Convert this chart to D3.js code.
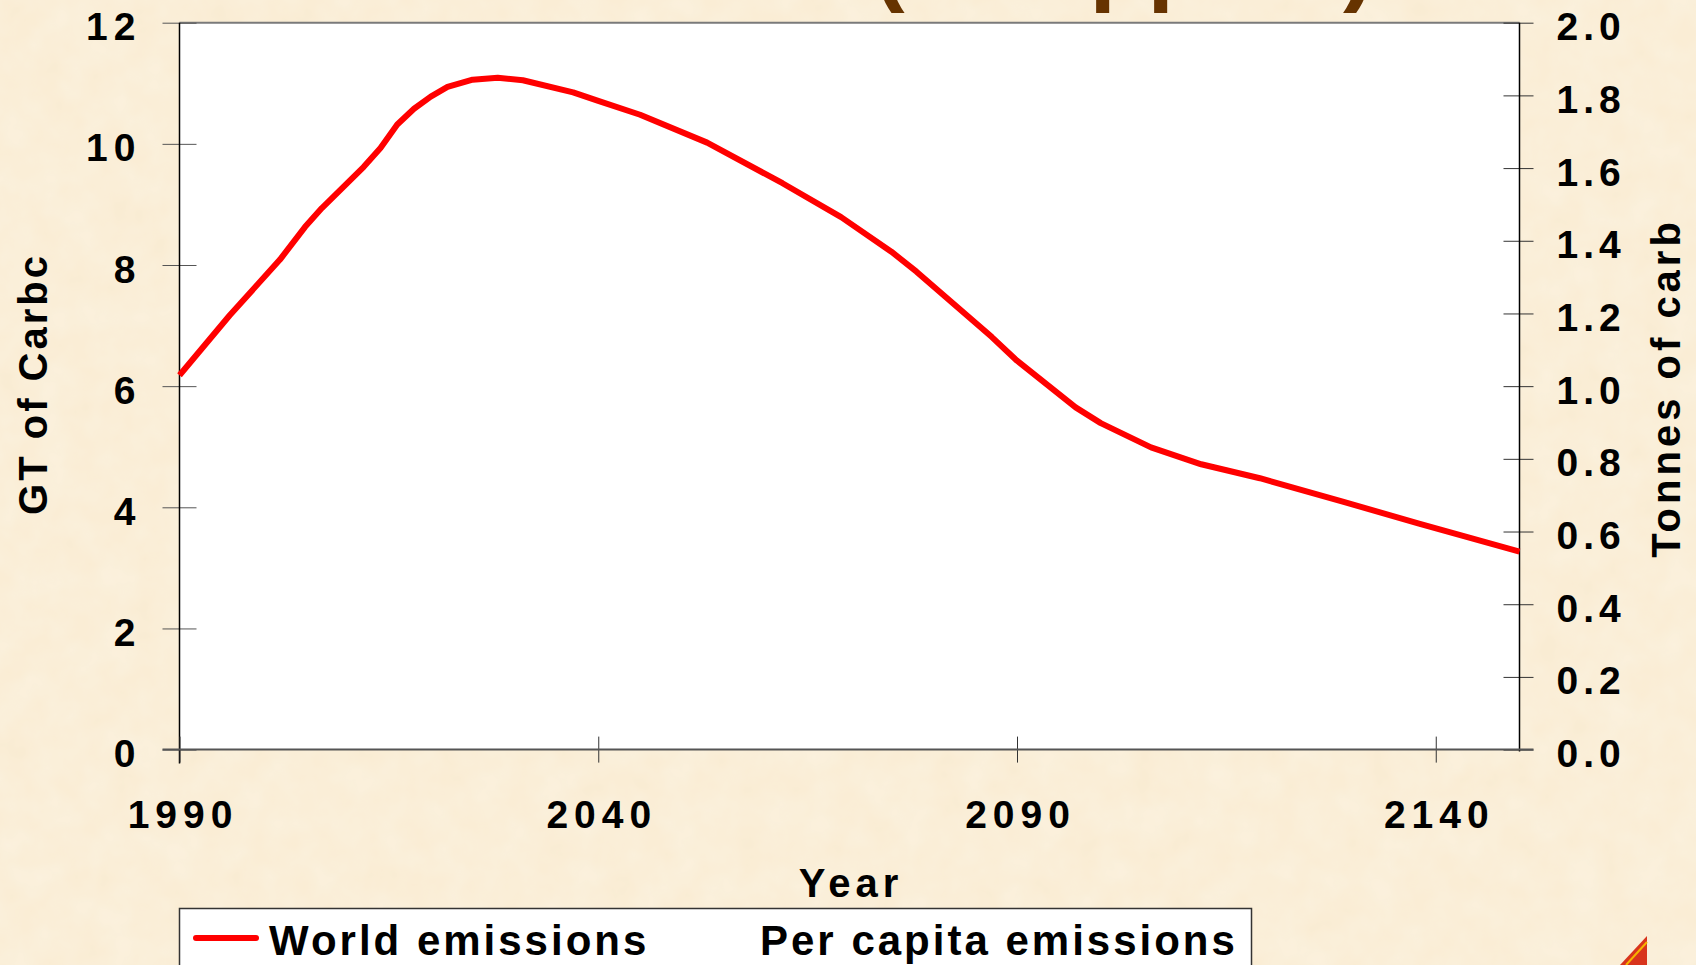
<!DOCTYPE html>
<html>
<head>
<meta charset="utf-8">
<script src="https://cdnjs.cloudflare.com/ajax/libs/d3/7.8.5/d3.min.js"></script>
<style>
  body { margin: 0; padding: 0; background: #faeed6; overflow: hidden; }
  svg { display: block; }
  text { font-family: "Liberation Sans", Arial, sans-serif; font-weight: bold; }
</style>
</head>
<body>
<script>
// chart data
var years = [1990, 1996, 2002, 2005, 2007, 2012, 2014, 2016, 2018, 2020, 2022,
             2025, 2028, 2031, 2037, 2040, 2045, 2053, 2062, 2069, 2075,
             2078, 2082, 2087, 2090, 2097, 2100, 2106, 2112, 2119, 2129, 2138, 2150];
var worldEmissions = [6.18, 7.17, 8.09, 8.63, 8.94, 9.62, 9.93, 10.32, 10.58, 10.78, 10.94,
                      11.06, 11.09, 11.05, 10.85, 10.71, 10.48, 10.02, 9.35, 8.79, 8.22,
                      7.89, 7.41, 6.81, 6.42, 5.65, 5.39, 4.99, 4.71, 4.48, 4.09, 3.73, 3.27];
var leftTicks = [0, 2, 4, 6, 8, 10, 12];
var rightTicks = [0, 0.2, 0.4, 0.6, 0.8, 1.0, 1.2, 1.4, 1.6, 1.8, 2.0];
var yearTicks = [1990, 2040, 2090, 2140];
var legendLabels = ["World emissions", "Per capita emissions"];
var titleText = "(550 ppmv)";

var width = 1696;
var height = 965;

var svg = d3.select("body").append("svg")
  .attr("width", width)
  .attr("height", height)

// faint parchment texture
var defs = svg.append("defs");
var paper = defs.append("filter")
  .attr("id", "paper")
  .attr("x", 0).attr("y", 0).attr("width", "100%").attr("height", "100%");
paper.append("feTurbulence")
  .attr("type", "fractalNoise")
  .attr("baseFrequency", 0.03)
  .attr("numOctaves", 3)
  .attr("seed", 4);
paper.append("feColorMatrix")
  .attr("type", "matrix")
  .attr("values", "0 0 0 0 1  0 0 0 0 0.99  0 0 0 0 0.94  0 0 0 0.35 0");
paper.append("feComposite").attr("in2", "SourceGraphic").attr("operator", "in");

svg.append("rect")
  .attr("width", width)
  .attr("height", height)
  .attr("fill", "#f9ebd1");
svg.append("rect")
  .attr("width", width)
  .attr("height", height)
  .attr("fill", "#f9ebd1")
  .attr("filter", "url(#paper)");

var x = d3.scaleLinear().domain([1990, 2150]).range([179.5, 1519.5]);
var yLeft = d3.scaleLinear().domain([0, 12]).range([749.6, 22.7]);
var yRight = d3.scaleLinear().domain([0, 2]).range([749.6, 22.7]);

// white plot area
svg.append("rect")
  .attr("x", x(1990))
  .attr("y", yLeft(12))
  .attr("width", x(2150) - x(1990))
  .attr("height", yLeft(0) - yLeft(12))
  .attr("fill", "#ffffff");

// top border (grey)
svg.append("line")
  .attr("x1", x(1990)).attr("x2", x(2150))
  .attr("y1", yLeft(12)).attr("y2", yLeft(12))
  .attr("stroke", "#7a7a7a")
  .attr("stroke-width", 2);

// left axis, ticks cross the axis line
var leftAxis = svg.append("g")
  .attr("transform", "translate(" + x(1990) + ",0)")
  .call(d3.axisLeft(yLeft).tickValues(leftTicks).tickSize(17).tickPadding(0).tickFormat(d3.format("d")));

leftAxis.select(".domain").remove();
leftAxis.selectAll(".tick line").attr("x1", 17).attr("x2", -17).attr("stroke", "#555");
leftAxis.selectAll(".tick text")
  .attr("x", -44 + 6)
  .attr("dy", 17)
  .attr("fill", "#000")
  .style("font-size", "39px")
  .style("letter-spacing", "6px")
  .attr("text-anchor", "end");

svg.append("line")
  .attr("x1", x(1990)).attr("x2", x(1990))
  .attr("y1", yLeft(12)).attr("y2", yLeft(0) + 14)
  .attr("stroke", "#000")
  .attr("stroke-width", 1.5);

// right axis
var rightAxis = svg.append("g")
  .attr("transform", "translate(" + x(2150) + ",0)")
  .call(d3.axisRight(yRight).tickValues(rightTicks).tickSize(15).tickPadding(0).tickFormat(d3.format(".1f")));

rightAxis.select(".domain").remove();
rightAxis.selectAll(".tick line").attr("x1", -16).attr("x2", 14).attr("stroke", "#333");
rightAxis.selectAll(".tick text")
  .attr("x", 37)
  .attr("dy", 17)
  .attr("fill", "#000")
  .style("font-size", "39px")
  .style("letter-spacing", "5px")
  .attr("text-anchor", "start");

svg.append("line")
  .attr("x1", x(2150)).attr("x2", x(2150))
  .attr("y1", yRight(2)).attr("y2", yRight(0) + 2)
  .attr("stroke", "#000")
  .attr("stroke-width", 1.5);

// bottom axis
var bottomAxis = svg.append("g")
  .attr("transform", "translate(0," + yLeft(0) + ")")
  .call(d3.axisBottom(x).tickValues(yearTicks).tickSize(13).tickPadding(0).tickFormat(d3.format("d")));

bottomAxis.select(".domain").remove();
bottomAxis.selectAll(".tick line").attr("y1", -13).attr("y2", 13).attr("stroke", "#333");
bottomAxis.selectAll(".tick text")
  .attr("y", 78)
  .attr("dy", 0)
  .attr("dx", 3)
  .attr("fill", "#000")
  .style("font-size", "39px")
  .style("letter-spacing", "6px")
  .attr("text-anchor", "middle");

svg.append("line")
  .attr("x1", x(1990) - 17).attr("x2", x(2150) + 14)
  .attr("y1", yLeft(0)).attr("y2", yLeft(0))
  .attr("stroke", "#555")
  .attr("stroke-width", 2);

// world emissions line
var line = d3.line()
  .x(function(d, i) { return x(years[i]); })
  .y(function(d) { return yLeft(d); });

svg.append("path")
  .datum(worldEmissions)
  .attr("d", line)
  .attr("fill", "none")
  .attr("stroke", "#ff0000")
  .attr("stroke-width", 6)
  .attr("stroke-linejoin", "round");

// axis titles
svg.append("text")
  .attr("transform", "translate(47,384) rotate(-90)")
  .attr("text-anchor", "middle")
  .style("font-size", "40px")
  .style("letter-spacing", "3px")
  .text("GT of Carbc");

svg.append("text")
  .attr("transform", "translate(1680,388) rotate(-90)")
  .attr("text-anchor", "middle")
  .style("font-size", "40px")
  .style("letter-spacing", "4px")
  .text("Tonnes of carb");

svg.append("text")
  .attr("x", 851)
  .attr("y", 897)
  .attr("text-anchor", "middle")
  .style("font-size", "40px")
  .style("letter-spacing", "5px")
  .text("Year");

// legend
var legend = svg.append("g");

legend.append("rect")
  .attr("x", 179.5)
  .attr("y", 908.5)
  .attr("width", 1072)
  .attr("height", 100)
  .attr("fill", "#ffffff")
  .attr("stroke", "#333")
  .attr("stroke-width", 1.5);

legend.append("line")
  .attr("x1", 196).attr("x2", 256)
  .attr("y1", 938).attr("y2", 938)
  .attr("stroke", "#ff0000")
  .attr("stroke-width", 6)
  .attr("stroke-linecap", "round");

var legendX = [269, 760];
legend.selectAll(".legend-label")
  .data(legendLabels)
  .enter().append("text")
    .attr("class", "legend-label")
    .attr("x", function(d, i) { return legendX[i]; })
    .attr("y", 955)
    .style("font-size", "42px")
    .style("letter-spacing", "3px")
    .text(function(d) { return d; });

// slide title, mostly above the page edge
svg.append("text")
  .attr("x", 873)
  .attr("y", -7)
  .attr("fill", "#663300")
  .style("font-size", "95px")
  .text(titleText);

// slide decoration bottom right
svg.append("polygon")
  .attr("points", "1647,936 1620,965 1647,965")
  .attr("fill", "#d8341c");
svg.append("line")
  .attr("x1", 1647).attr("y1", 942)
  .attr("x2", 1626).attr("y2", 965)
  .attr("stroke", "#f6b400")
  .attr("stroke-width", 2);
</script>
</body>
</html>
